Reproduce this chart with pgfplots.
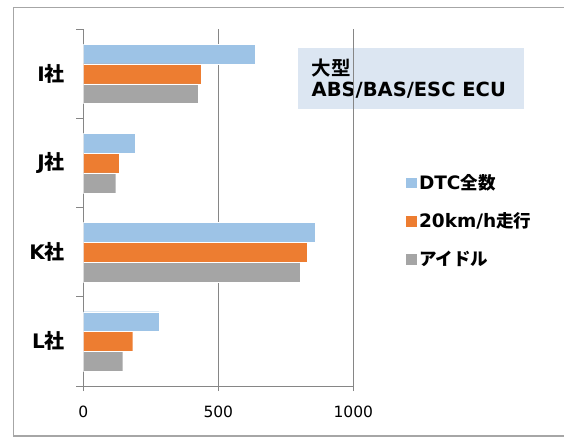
\documentclass[border=0pt]{standalone}
\usepackage{fontspec}
\setmainfont{DejaVu Sans}
\newfontfamily\cjk{Noto Sans CJK JP Bold}
\usepackage{pgfplots}
\pgfplotsset{compat=1.18}
\definecolor{cBlue}{HTML}{9DC3E6}
\definecolor{cOrange}{HTML}{ED7D31}
\definecolor{cGray}{HTML}{A5A5A5}
\definecolor{axisGray}{HTML}{868686}
\definecolor{frameGray}{HTML}{A6A6A6}
\definecolor{boxFill}{HTML}{DCE6F2}
\newcommand{\lfont}{\fontsize{18.5}{20}\selectfont\bfseries}
\newcommand{\lcjk}[1]{{\cjk\fontsize{17.5}{20}\selectfont #1}}
\newcommand{\cat}[1]{{\fontsize{20}{22}\selectfont\bfseries #1{\cjk 社}}}
\begin{document}
\begin{tikzpicture}[x=1pt,y=1pt]
\useasboundingbox (0,0) rectangle (564,437);
% outer chart frame (right side lies outside the crop)
\draw[frameGray, line width=1.2pt] (600,429.7) -- (13.3,429.7) -- (13.3,1) -- (600,1);
% title box
\fill[boxFill] (297.8,327.7) rectangle (523.7,388.7);
\node[anchor=base west, inner sep=0pt] at (311.5,361) {\cjk\fontsize{19.5}{22}\selectfont 大型};
\node[anchor=base west, inner sep=0pt] at (311.5,340.5) {\fontsize{19.5}{22}\selectfont\bfseries ABS/BAS/ESC ECU};
\begin{axis}[
  at={(83.3pt,51pt)}, anchor=south west,
  scale only axis, width=270pt, height=356.7pt,
  xbar, bar width=0.222,
  xmin=0, xmax=1000, ymin=-0.5, ymax=3.5,
  axis lines=left, axis line style={-, draw=axisGray, line width=0.8pt},
  xtick={0,500,1000}, xmajorgrids, grid style={axisGray, line width=0.8pt},
  ytick={0,1,2,3},
  yticklabels={\cat{L},\cat{K},\cat{J},\cat{I}},
  minor ytick={-0.5,0.5,1.5,2.5,3.5},
  tick align=outside, major tick length=5pt, minor tick length=7pt,
  tick style={axisGray, line width=0.8pt},
  major y tick style={draw=none},
  /pgf/number format/assume math mode=true,
  /pgf/number format/1000 sep={},
  xticklabel style={font=\fontsize{15.5}{17}\selectfont, yshift=-11pt},
  yticklabel style={xshift=-10pt},
  legend image code/.code={\fill[#1] (0pt,-5.75pt) rectangle (11.5pt,5.75pt);},
  legend style={at={(axis description cs:1.18,0.605)}, anchor=north west,
    draw=none, fill=none, font=\lfont, row sep=18pt,
    legend cell align=left},
]
\addplot[fill=cBlue, draw=white, line width=0.4pt, bar shift=0.222]
  coordinates {(638,3) (194,2) (859,1) (280,0)};
\addplot[fill=cOrange, draw=white, line width=0.4pt, bar shift=0]
  coordinates {(437,3) (132,2) (829,1) (183,0)};
\addplot[fill=cGray, draw=white, line width=0.4pt, bar shift=-0.222]
  coordinates {(424,3) (120,2) (805,1) (146,0)};
\legend{DTC\lcjk{全数}, 20km/h\lcjk{走行}, \lcjk{アイドル}}
\end{axis}
\end{tikzpicture}
\end{document}
